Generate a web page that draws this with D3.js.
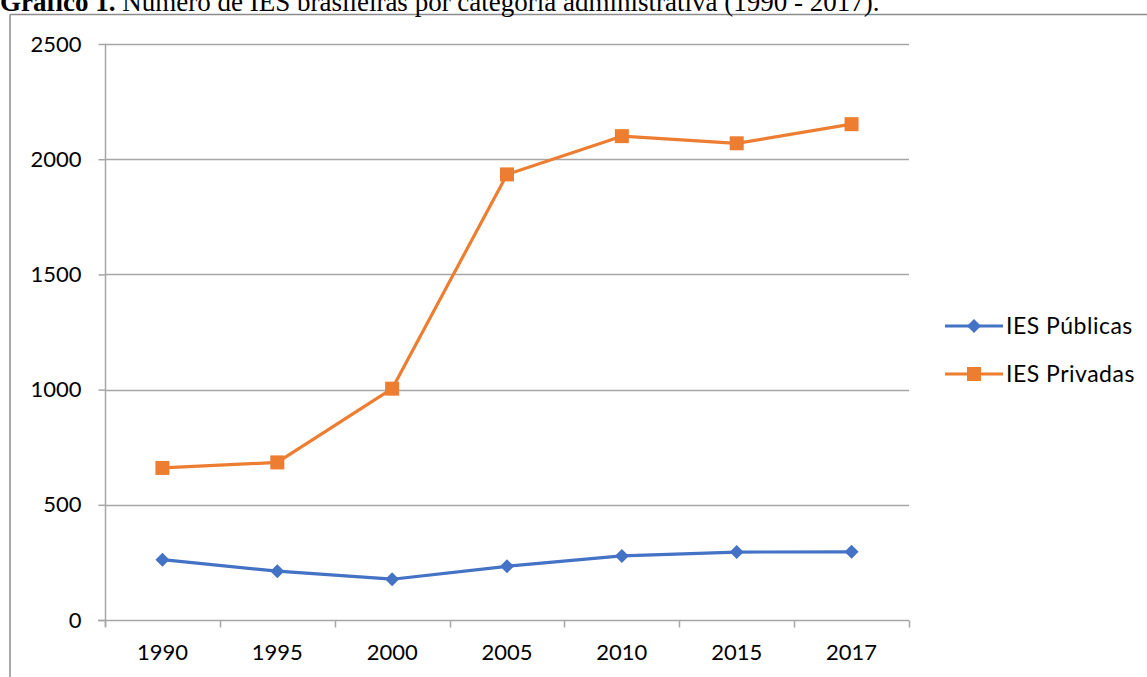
<!DOCTYPE html>
<html>
<head>
<meta charset="utf-8">
<script src="https://cdn.jsdelivr.net/npm/d3@7"></script>
<style>
  html, body { margin: 0; padding: 0; background: #fff; }
  svg { display: block; }
</style>
</head>
<body>
<svg id="chart" width="1147" height="677"></svg>
<script>
// Number of Brazilian higher-education institutions (IES) by administrative category
const years = ["1990", "1995", "2000", "2005", "2010", "2015", "2017"];
const publicas = [262, 212, 177, 233, 278, 295, 296];
const privadas = [660, 684, 1004, 1934, 2100, 2069, 2152];
const yTicks = [0, 500, 1000, 1500, 2000, 2500];
const seriesNames = ["IES Públicas", "IES Privadas"];

const svg = d3.select("#chart");
const W = 1147, H = 677;
const plot = { left: 105, right: 909, top: 44, bottom: 620 };

const labelFont = "Lato, 'Open Sans', sans-serif";
const gridColor = "#a6a6a6";
const colors = ["#4472c4", "#ed7d31"];

// outer frame (only top and left edges fall inside the page)
svg.append("line").attr("x1", 10).attr("x2", W).attr("y1", 14.5).attr("y2", 14.5)
  .attr("stroke", "#8c8c8c").attr("stroke-width", 1.5);
svg.append("line").attr("x1", 10).attr("x2", 10).attr("y1", 14.5).attr("y2", H)
  .attr("stroke", "#8c8c8c").attr("stroke-width", 1.5);

// caption
const title = svg.append("text")
  .attr("x", 0).attr("y", 11)
  .attr("font-family", "'Liberation Serif', 'Times New Roman', serif")
  .attr("font-size", 27).attr("fill", "#000");
title.append("tspan").attr("font-weight", "bold").text("Gráfico 1.");
title.append("tspan").text(" Número de IES brasileiras por categoria administrativa (1990 - 2017).");

// scales
const x = d3.scaleBand().domain(years).range([plot.left, plot.right]).padding(0);
const y = d3.scaleLinear().domain([0, 2500]).range([plot.bottom, plot.top]);

// horizontal gridlines
svg.append("g").selectAll("line").data(yTicks.filter(d => d > 0)).join("line")
  .attr("x1", plot.left).attr("x2", plot.right)
  .attr("y1", d => Math.round(y(d)) + 0.5).attr("y2", d => Math.round(y(d)) + 0.5)
  .attr("stroke", gridColor).attr("stroke-width", 1.5);

// y axis
const yAxis = svg.append("g")
  .attr("transform", `translate(${plot.left + 0.5},0)`)
  .call(d3.axisLeft(y).tickValues(yTicks).tickSize(7).tickPadding(17).tickFormat(d3.format("d")));
yAxis.select(".domain").attr("stroke", gridColor).attr("stroke-width", 1.5).attr("d", `M0,${plot.top}V${plot.bottom + 7}`);
yAxis.selectAll(".tick line").attr("stroke", gridColor).attr("stroke-width", 1.5);
yAxis.selectAll(".tick text").attr("font-family", labelFont).attr("font-size", 22).attr("fill", "#000");

// x axis: labels centred on categories, tick marks on category boundaries
const xAxis = svg.append("g")
  .attr("transform", `translate(0,${plot.bottom + 0.5})`)
  .call(d3.axisBottom(x).tickSize(0).tickPadding(24));
xAxis.select(".domain").attr("stroke", gridColor).attr("stroke-width", 1.5)
  .attr("d", `M${plot.left - 7},0H${plot.right}`);
xAxis.selectAll(".tick text").attr("font-family", labelFont).attr("font-size", 22).attr("fill", "#000");
const bounds = years.map(d => x(d)).concat([x(years[years.length - 1]) + x.bandwidth()]);
xAxis.append("g").selectAll("line").data(bounds).join("line")
  .attr("x1", d => Math.round(d) + 0.5).attr("x2", d => Math.round(d) + 0.5)
  .attr("y1", 0).attr("y2", 7)
  .attr("stroke", gridColor).attr("stroke-width", 1.5);

// series lines and markers
const cx = d => x(d) + x.bandwidth() / 2;
const line = d3.line().x((d, i) => cx(years[i])).y(d => y(d));

const diamond = s => `M0,${-s}L${s},0L0,${s}L${-s},0Z`;

function drawSeries(values, color, shape) {
  svg.append("path").datum(values)
    .attr("d", line).attr("fill", "none")
    .attr("stroke", color).attr("stroke-width", 3.2)
    .attr("stroke-linejoin", "round");
  const g = svg.append("g");
  values.forEach((v, i) => {
    if (shape === "diamond") {
      g.append("path").attr("d", diamond(7))
        .attr("transform", `translate(${cx(years[i])},${y(v)})`)
        .attr("fill", color);
    } else {
      g.append("rect").attr("x", cx(years[i]) - 7).attr("y", y(v) - 7)
        .attr("width", 14).attr("height", 14).attr("fill", color);
    }
  });
}
drawSeries(publicas, colors[0], "diamond");
drawSeries(privadas, colors[1], "square");

// legend
const legendRows = [
  { name: seriesNames[0], color: colors[0], shape: "diamond", y: 326 },
  { name: seriesNames[1], color: colors[1], shape: "square", y: 374 }
];
legendRows.forEach(r => {
  svg.append("line").attr("x1", 945).attr("x2", 1003).attr("y1", r.y).attr("y2", r.y)
    .attr("stroke", r.color).attr("stroke-width", 3.2);
  if (r.shape === "diamond") {
    svg.append("path").attr("d", diamond(7)).attr("transform", `translate(974,${r.y})`).attr("fill", r.color);
  } else {
    svg.append("rect").attr("x", 967).attr("y", r.y - 7).attr("width", 14).attr("height", 14).attr("fill", r.color);
  }
  svg.append("text").attr("x", 1006).attr("y", r.y).attr("dy", "0.35em")
    .attr("font-family", labelFont).attr("font-size", 23).attr("letter-spacing", 0.5).attr("fill", "#000")
    .text(r.name);
});
</script>
</body>
</html>
